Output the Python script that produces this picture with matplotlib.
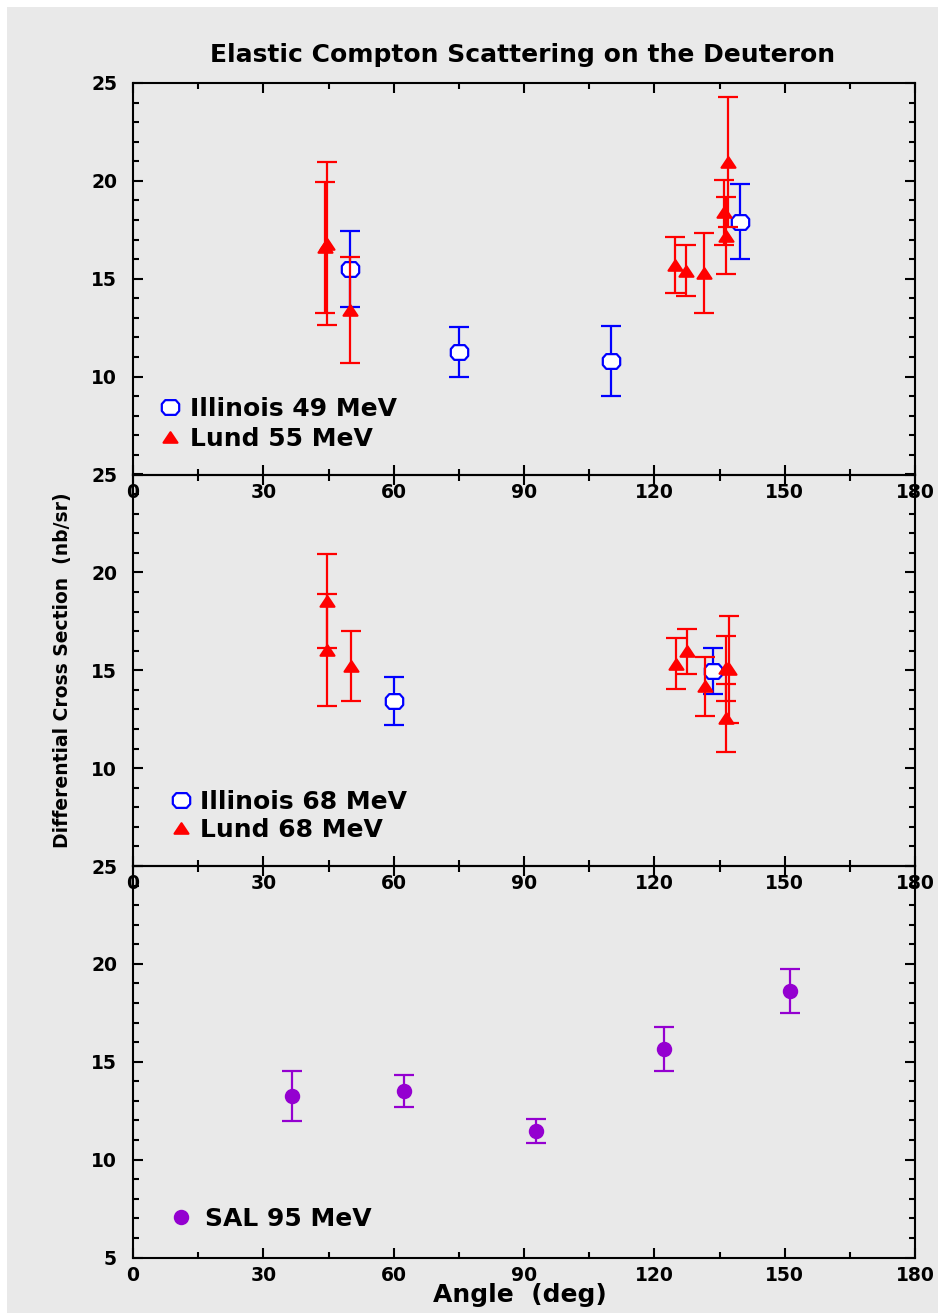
import matplotlib
matplotlib.use("Agg")
import matplotlib.pyplot as plt
from matplotlib.path import Path
from matplotlib.patches import Rectangle
from matplotlib.ticker import MultipleLocator, FuncFormatter

# ---------------- data: angle (deg), cross section (nb/sr), error ----------------
ill49_angle = [50.0, 75.0, 110.0, 139.8]
ill49_xs = [15.5, 11.28, 10.8, 17.92]
ill49_err = [1.95, 1.28, 1.8, 1.91]

lund55_angle = [44.7, 44.3, 50.0, 124.7, 127.2, 131.4, 136.1, 136.4, 136.9]
lund55_xs = [16.8, 16.6, 13.42, 15.7, 15.42, 15.29, 18.4, 17.2, 20.96]
lund55_err = [4.15, 3.35, 2.71, 1.45, 1.29, 2.05, 1.67, 1.97, 3.34]

ill68_angle = [60.0, 133.6]
ill68_xs = [13.42, 14.97]
ill68_err = [1.23, 1.18]

lund68_angle = [44.6, 44.6, 50.1, 124.9, 127.5, 131.7, 136.4, 137.3, 136.4]
lund68_xs = [18.55, 16.03, 15.22, 15.33, 15.97, 14.17, 15.11, 15.05, 12.56]
lund68_err = [2.4, 2.85, 1.8, 1.3, 1.16, 1.49, 1.66, 2.73, 1.72]

sal95_angle = [36.7, 62.4, 92.8, 122.2, 151.2]
sal95_xs = [13.26, 13.52, 11.46, 15.66, 18.63]
sal95_err = [1.28, 0.81, 0.63, 1.12, 1.12]

x_ticks = [0, 30, 60, 90, 120, 150, 180]
y_ticks = [5, 10, 15, 20, 25]

title = "Elastic Compton Scattering on the Deuteron"
xlabel = "Angle  (deg)"
ylabel = "Differential Cross Section  (nb/sr)"

# ---------------- style ----------------
BG = "#e9e9e9"
BLUE = "#0000ff"
RED = "#ff0000"
PURPLE = "#9400d0"
LW = 1.6

plt.rcParams["font.family"] = ["DejaVu Sans"]
plt.rcParams["font.weight"] = "bold"

# wide octagon for the open markers, flattened triangle for the filled ones
octagon = Path([(-1, -0.4), (-1, 0.4), (-0.6, 0.85), (0.6, 0.85),
                (1, 0.4), (1, -0.4), (0.6, -0.85), (-0.6, -0.85),
                (-1, -0.4)], closed=True)
triangle = Path([(0, 0.75), (-1, -0.75), (1, -0.75), (0, 0.75)], closed=True)

W, H = 938, 1313
fig = plt.figure(figsize=(W / 100, H / 100), dpi=100, facecolor="white")
fig.patches.append(Rectangle((7 / W, 0), 1, 1 - 7 / H, transform=fig.transFigure,
                             facecolor=BG, edgecolor="none", zorder=-10))

left = 133 / W
width = 782 / W
ph = 391.5 / H
bottoms = [(H - 474.5) / H, (H - 866) / H, (H - 1257.5) / H]
axes = [fig.add_axes([left, b, width, ph]) for b in bottoms]

eb_kw = dict(capsize=7.5, capthick=LW, elinewidth=LW, linestyle="none", mew=LW)


def style_axis(ax, show_bottom_label=True):
    ax.set_facecolor("none")
    ax.set_xlim(0, 180)
    ax.set_ylim(5, 25)
    ax.set_xticks(x_ticks)
    ax.set_yticks(y_ticks)
    # where panels meet, the lower panel's "25" sits on the upper panel's "5"
    if not show_bottom_label:
        ax.yaxis.set_major_formatter(
            FuncFormatter(lambda v, _: "" if v == y_ticks[0] else f"{v:g}"))
    ax.xaxis.set_minor_locator(MultipleLocator(15))
    ax.yaxis.set_minor_locator(MultipleLocator(1))
    ax.tick_params(which="both", direction="in", top=True, right=True,
                   width=1.5, colors="black", labelsize=13.5)
    ax.tick_params(which="major", length=7.5)
    ax.tick_params(which="minor", length=4.3)
    ax.tick_params(axis="y", which="major", pad=11.5)
    ax.tick_params(axis="x", which="major", pad=6)
    for sp in ax.spines.values():
        sp.set_linewidth(1.5)
    for lab in ax.get_xticklabels() + ax.get_yticklabels():
        lab.set_fontweight("bold")


LEG_FS = 18
leg_kw = dict(frameon=False, numpoints=1, handlelength=0.733, borderpad=0,
              borderaxespad=0, loc="upper left", prop=dict(size=LEG_FS, weight="bold"))

# top panel: 49 / 55 MeV
ax = axes[0]
style_axis(ax, show_bottom_label=False)
c1 = ax.errorbar(ill49_angle, ill49_xs, yerr=ill49_err, color=BLUE, marker=octagon,
                 markersize=12.5, mfc="white", mec=BLUE, zorder=3, **eb_kw)
c2 = ax.errorbar(lund55_angle, lund55_xs, yerr=lund55_err, color=RED, marker=triangle,
                 markersize=10, mfc=RED, mec=RED, zorder=4, **eb_kw)
ax.legend([c1.lines[0], c2.lines[0]], ["Illinois 49 MeV", "Lund 55 MeV"],
          bbox_to_anchor=(0.0356, 0.199), handletextpad=0.44, labelspacing=0.26, **leg_kw)

# middle panel: 68 MeV
ax = axes[1]
style_axis(ax, show_bottom_label=False)
c1 = ax.errorbar(ill68_angle, ill68_xs, yerr=ill68_err, color=BLUE, marker=octagon,
                 markersize=12.5, mfc="white", mec=BLUE, zorder=3, **eb_kw)
c2 = ax.errorbar(lund68_angle, lund68_xs, yerr=lund68_err, color=RED, marker=triangle,
                 markersize=10, mfc=RED, mec=RED, zorder=4, **eb_kw)
ax.legend([c1.lines[0], c2.lines[0]], ["Illinois 68 MeV", "Lund 68 MeV"],
          bbox_to_anchor=(0.0497, 0.195), handletextpad=0.39, labelspacing=0.17, **leg_kw)
ax.set_ylabel(ylabel, fontsize=13.5, fontweight="bold")
ax.yaxis.set_label_coords(-0.078, 0.5)

# bottom panel: 95 MeV
ax = axes[2]
style_axis(ax)
c1 = ax.errorbar(sal95_angle, sal95_xs, yerr=sal95_err, color=PURPLE, marker="o",
                 markersize=9.5, mfc=PURPLE, mec=PURPLE, zorder=3, **eb_kw)
ax.legend([c1.lines[0]], ["SAL 95 MeV"],
          bbox_to_anchor=(0.0497, 0.129), handletextpad=0.6, **leg_kw)
ax.set_xlabel(xlabel, fontsize=18, fontweight="bold")
ax.xaxis.set_label_coords(0.495, -0.066)

fig.text(522.5 / W, (H - 55) / H, title, ha="center", va="center",
         fontsize=18, fontweight="bold")

fig.savefig("out.png", dpi=100, facecolor="white")
